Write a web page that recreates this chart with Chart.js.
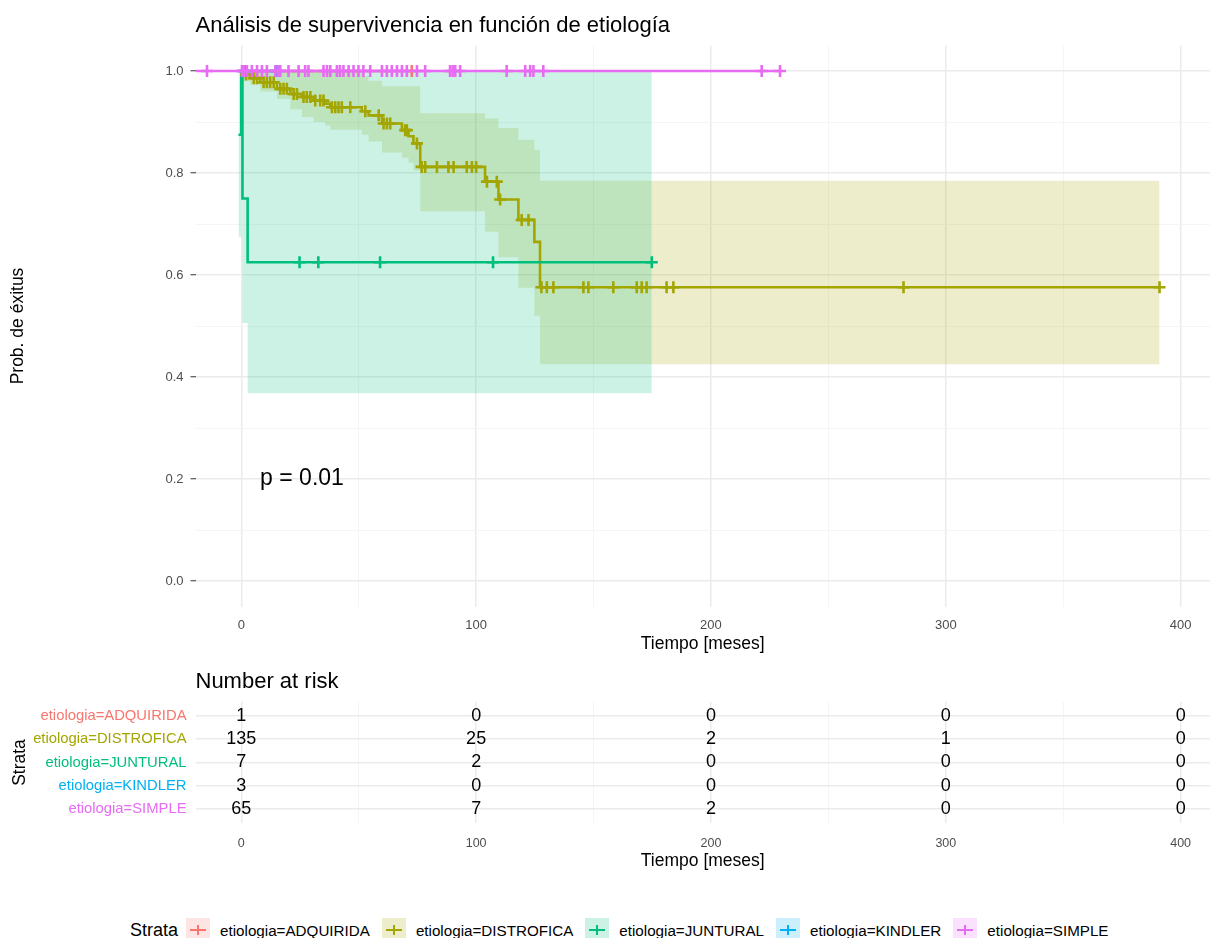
<!DOCTYPE html>
<html>
<head>
<meta charset="utf-8">
<script src="https://cdn.jsdelivr.net/npm/chart.js@4.4.0/dist/chart.umd.min.js"></script>
<style>
body { margin: 0; background: #fff; font-family: "Liberation Sans", Arial, sans-serif; }
#wrap { position: relative; width: 1216px; height: 938px; overflow: hidden; }
#main { position: absolute; left: 0; top: 0; }
#risk { position: absolute; left: 0; top: 660px; }
#legend { position: absolute; left: 130px; top: 917px; height: 26px; display: flex; align-items: center; }
#legend .ttl { font-size: 18px; color: #000; margin-right: 8px; }
#legend .key { position: relative; width: 24px; height: 24px; margin-right: 10px; }
#legend .key .h { position: absolute; left: 4px; top: 11px; width: 16px; height: 2px; }
#legend .key .v { position: absolute; left: 11px; top: 7px; width: 2px; height: 10px; }
#legend .lab { font-size: 15.2px; color: #000; margin-right: 12px; }
</style>
</head>
<body>
<div id="wrap">
  <canvas id="main" width="1216" height="656"></canvas>
  <canvas id="risk" width="1216" height="215"></canvas>
  <div id="legend"></div>
</div>
<script>
var strata = ["etiologia=ADQUIRIDA", "etiologia=DISTROFICA", "etiologia=JUNTURAL", "etiologia=KINDLER", "etiologia=SIMPLE"];
var colors = ["#F8766D", "#A3A500", "#00BF7D", "#00B0F6", "#E76BF3"];
var fills = ["rgba(248,118,109,0.2)", "rgba(163,165,0,0.2)", "rgba(0,191,125,0.2)", "rgba(0,176,246,0.2)", "rgba(231,107,243,0.2)"];

// axes
var xMin = -19.5, xMax = 412.5;
var xGrid = [0, 50, 100, 150, 200, 250, 300, 350, 400];
var xLabels = [0, 100, 200, 300, 400];
var yGrid = [0, 0.1, 0.2, 0.3, 0.4, 0.5, 0.6, 0.7, 0.8, 0.9, 1];
var yLabels = [0, 0.2, 0.4, 0.6, 0.8, 1];

// ADQUIRIDA
var adq_time = [0, 72.6];
var adq_surv = [1, 1];
var adq_cens = [72.6];

// DISTROFICA
var dis_time  = [0, 1, 3.8, 8.1, 15.2, 20.9, 25.8, 30.8, 35.7, 37.9, 51.3, 54.2, 59.9, 68.4, 71.2, 73.3, 76.2, 103.8, 109.5, 118, 124.8, 127.2, 391];
var dis_surv  = [1, 0.993, 0.986, 0.978, 0.965, 0.955, 0.949, 0.942, 0.936, 0.929, 0.921, 0.913, 0.897, 0.884, 0.872, 0.858, 0.812, 0.783, 0.748, 0.708, 0.665, 0.576, 0.576];
var dis_upper = [1, 1, 1, 1, 1, 1, 1, 1, 1, 1, 0.99, 0.981, 0.97, 0.97, 0.97, 0.97, 0.917, 0.907, 0.888, 0.865, 0.845, 0.785, 0.785];
var dis_lower = [1, 0.98, 0.973, 0.96, 0.945, 0.925, 0.91, 0.9, 0.893, 0.885, 0.875, 0.862, 0.84, 0.83, 0.82, 0.805, 0.725, 0.685, 0.635, 0.575, 0.52, 0.425, 0.425];
var dis_cens  = [2, 5.3, 6.7, 9.5, 10.9, 12.3, 13.8, 16.6, 18, 19.4, 22.3, 23.7, 26.5, 27.9, 29.4, 31.5, 33.6, 35, 38.6, 40, 41.4, 42.8, 46.4, 52.8, 58.5, 60.6, 62, 63.4, 69.8, 70.5, 74.8, 76.8, 78.3, 83.3, 88.2, 90.4, 96, 98.2, 100, 104.6, 108.8, 110.2, 119.4, 122.3, 127.8, 130.1, 132.9, 145.7, 147.8, 158.4, 168.4, 170.5, 172.6, 181.1, 184, 282, 391];

// JUNTURAL
var jun_time  = [-1.2, 0, 0.5, 2.7, 174.8];
var jun_surv  = [0.875, 1, 0.75, 0.625, 0.625];
var jun_upper = [1, 1, 1, 1, 1];
var jun_lower = [0.675, 1, 0.506, 0.368, 0.368];
var jun_cens  = [24.8, 32.8, 59.1, 107.2, 174.8];

// KINDLER
var kin_time = [0, 14.9];
var kin_surv = [1, 1];
var kin_cens = [0.8, 1.6, 14.9];

// SIMPLE
var sim_time = [-19.5, 229.4];
var sim_surv = [1, 1];
var sim_cens = [-14.6, 0.3, 1.2, 2.4, 4.5, 6.7, 8.8, 10.9, 14.5, 15.7, 16.6, 20.1, 24.4, 27.2, 28.6, 35, 36.5, 37.9, 40.7, 42, 43.5, 45.7, 47.8, 49.9, 52, 54.9, 59.9, 62, 64.1, 66.3, 68.4, 70.5, 74.8, 78.3, 88.9, 90, 91.1, 93.2, 113, 120.9, 123, 124.4, 128.6, 221.6, 229.4];

// p value
var pText = "p = 0.01";
var pX = 8, pY = 0.2;

// number at risk
var riskTimes = [0, 100, 200, 300, 400];
var riskAdq = [1, 0, 0, 0, 0];
var riskDis = [135, 25, 2, 1, 0];
var riskJun = [7, 2, 0, 0, 0];
var riskKin = [3, 0, 0, 0, 0];
var riskSim = [65, 7, 2, 0, 0];
var riskCounts = [riskAdq, riskDis, riskJun, riskKin, riskSim];

var curveTimes = [adq_time, dis_time, jun_time, kin_time, sim_time];
var curveSurv = [adq_surv, dis_surv, jun_surv, kin_surv, sim_surv];
var curveCens = [adq_cens, dis_cens, jun_cens, kin_cens, sim_cens];

var FONT = "'Liberation Sans', Arial, sans-serif";

function pts(times, vals){
  return times.map(function(t, i){ return {x: t, y: vals[i]}; });
}

function stepAt(times, vals, t){
  var v = vals[0];
  for(var i = 0; i < times.length; i++){
    if(times[i] <= t) v = vals[i];
  }
  return v;
}

function isMajorX(v){ return xLabels.indexOf(v) >= 0; }
function isMajorY(v){ return Math.round(v * 10) % 2 == 0; }

var datasets = [];

// bands (olive first, teal over it)
function band(times, up, low, i, ord){
  datasets.push({ data: pts(times, up), stepped: true, fill: '+1', backgroundColor: fills[i],
    borderColor: 'rgba(0,0,0,0)', borderWidth: 0, pointRadius: 0, order: ord });
  datasets.push({ data: pts(times, low), stepped: true, fill: false,
    borderColor: 'rgba(0,0,0,0)', borderWidth: 0, pointRadius: 0, order: ord });
}
band(dis_time, dis_upper, dis_lower, 1, 101);
band(jun_time, jun_upper, jun_lower, 2, 100);

for(var i = 0; i < strata.length; i++){
  datasets.push({ data: pts(curveTimes[i], curveSurv[i]), stepped: true, fill: false,
    borderColor: colors[i], borderWidth: 2.6, pointRadius: 0, order: 50 - i });
}
for(var i = 0; i < strata.length; i++){
  var cp = curveCens[i].map(function(c){ return {x: c, y: stepAt(curveTimes[i], curveSurv[i], c)}; });
  datasets.push({ data: cp, showLine: false, pointStyle: 'cross', pointRadius: 6,
    borderColor: colors[i], pointBorderWidth: 2.6, order: 20 - i });
}

var pPlugin = {
  id: 'pvalue',
  afterDatasetsDraw: function(chart){
    var ctx = chart.ctx;
    ctx.save();
    ctx.font = "23px " + FONT;
    ctx.fillStyle = "#000";
    ctx.textAlign = "left";
    ctx.textBaseline = "middle";
    ctx.fillText(pText, chart.scales.x.getPixelForValue(pX), chart.scales.y.getPixelForValue(pY));
    ctx.restore();
  }
};

new Chart(document.getElementById("main"), {
  type: 'line',
  data: { datasets: datasets },
  plugins: [pPlugin],
  options: {
    responsive: false,
    animation: false,
    events: [],
    layout: { autoPadding: false, padding: { left: 0, right: 6, top: 0, bottom: 0 } },
    plugins: {
      legend: { display: false },
      tooltip: { enabled: false },
      title: {
        display: true, text: "Análisis de supervivencia en función de etiología",
        align: 'start', fullSize: false, color: '#000',
        font: { family: FONT, size: 22, weight: 'normal' },
        padding: { top: 12.8, bottom: 6.3 }
      }
    },
    scales: {
      x: {
        type: 'linear', min: xMin, max: xMax,
        afterBuildTicks: function(s){ s.ticks = xGrid.map(function(v){ return {value: v}; }); },
        afterFit: function(s){ s.height = 49.5; },
        grid: {
          drawTicks: false,
          color: function(c){ return c.tick && isMajorX(c.tick.value) ? '#EBEBEB' : '#F2F2F2'; },
          lineWidth: function(c){ return c.tick && isMajorX(c.tick.value) ? 1.5 : 0.8; }
        },
        border: { display: false },
        ticks: {
          autoSkip: false, maxRotation: 0, padding: 11, color: '#4D4D4D',
          font: { family: FONT, size: 13 },
          callback: function(v){ return isMajorX(v) ? String(v) : ''; }
        },
        title: { display: true, text: "Tiempo [meses]", color: '#000',
          font: { family: FONT, size: 17.5 }, padding: { top: 0, bottom: 1 } }
      },
      y: {
        min: -0.05, max: 1.05,
        afterBuildTicks: function(s){ s.ticks = yGrid.map(function(v){ return {value: v}; }); },
        afterFit: function(s){ s.width = 195.5; },
        grid: {
          drawTicks: true, tickLength: 5, tickWidth: 1,
          tickColor: function(c){ return c.tick && isMajorY(c.tick.value) ? '#333333' : 'rgba(0,0,0,0)'; },
          color: function(c){ return c.tick && isMajorY(c.tick.value) ? '#EBEBEB' : '#F2F2F2'; },
          lineWidth: function(c){ return c.tick && isMajorY(c.tick.value) ? 1.5 : 0.8; }
        },
        border: { display: false },
        ticks: {
          autoSkip: false, padding: 7, color: '#4D4D4D',
          font: { family: FONT, size: 13 },
          callback: function(v){ return isMajorY(v) ? v.toFixed(1) : ''; }
        },
        title: { display: true, text: "Prob. de éxitus", color: '#000',
          font: { family: FONT, size: 17.5 }, padding: { top: 7.5, bottom: 0 } }
      }
    }
  }
});

var riskPlugin = {
  id: 'riskNumbers',
  afterDatasetsDraw: function(chart){
    var ctx = chart.ctx, xs = chart.scales.x, ys = chart.scales.y;
    ctx.save();
    ctx.font = "18px " + FONT;
    ctx.fillStyle = "#000";
    ctx.textAlign = "center";
    ctx.textBaseline = "middle";
    riskCounts.forEach(function(row, i){
      row.forEach(function(n, j){
        ctx.fillText(String(n), xs.getPixelForValue(riskTimes[j]), ys.getPixelForValue(i));
      });
    });
    ctx.restore();
  }
};

new Chart(document.getElementById("risk"), {
  type: 'line',
  data: { datasets: [] },
  plugins: [riskPlugin],
  options: {
    responsive: false,
    animation: false,
    events: [],
    layout: { autoPadding: false, padding: { left: 0, right: 6, top: 0, bottom: 0 } },
    plugins: {
      legend: { display: false },
      tooltip: { enabled: false },
      title: {
        display: true, text: "Number at risk", align: 'start', fullSize: false, color: '#000',
        font: { family: FONT, size: 22, weight: 'normal' },
        padding: { top: 8.8, bottom: 6.8 }
      }
    },
    scales: {
      x: {
        type: 'linear', min: xMin, max: xMax,
        afterBuildTicks: function(s){ s.ticks = xGrid.map(function(v){ return {value: v}; }); },
        afterFit: function(s){ s.height = 52; },
        grid: {
          drawTicks: false,
          color: function(c){ return c.tick && isMajorX(c.tick.value) ? '#EBEBEB' : '#F2F2F2'; },
          lineWidth: function(c){ return c.tick && isMajorX(c.tick.value) ? 1.5 : 0.8; }
        },
        border: { display: false },
        ticks: {
          autoSkip: false, maxRotation: 0, padding: 13, color: '#4D4D4D',
          font: { family: FONT, size: 12.5 },
          callback: function(v){ return isMajorX(v) ? String(v) : ''; }
        },
        title: { display: true, text: "Tiempo [meses]", color: '#000',
          font: { family: FONT, size: 17.5 }, padding: { top: 0, bottom: 3 } }
      },
      y: {
        type: 'linear', min: -0.6, max: 4.6, reverse: true,
        afterBuildTicks: function(s){ s.ticks = strata.map(function(n, i){ return {value: i}; }); },
        afterFit: function(s){ s.width = 195.5; },
        grid: { drawTicks: false, color: '#EBEBEB', lineWidth: 1.5 },
        border: { display: false },
        ticks: {
          autoSkip: false, padding: 9,
          color: function(c){ return colors[c.index]; },
          font: { family: FONT, size: 14.8 },
          callback: function(v){ return strata[v]; }
        },
        title: { display: true, text: "Strata", color: '#000',
          font: { family: FONT, size: 17.5 }, padding: { top: 9.5, bottom: 0 } }
      }
    }
  }
});

// legend
var leg = document.getElementById("legend");
var html = '<span class="ttl">Strata</span>';
for(var i = 0; i < strata.length; i++){
  html += '<span class="key" style="background:' + fills[i] + '">' +
    '<span class="h" style="background:' + colors[i] + '"></span>' +
    '<span class="v" style="background:' + colors[i] + '"></span></span>' +
    '<span class="lab">' + strata[i] + '</span>';
}
leg.innerHTML = html;
</script>
</body>
</html>
